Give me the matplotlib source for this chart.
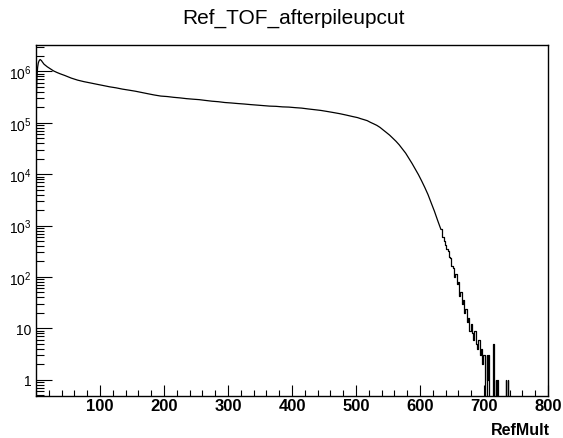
import numpy as np
import matplotlib
matplotlib.use("Agg")
import matplotlib.pyplot as plt
from matplotlib import ticker

plt.rcParams['font.family'] = ['Liberation Sans', 'DejaVu Sans']
plt.rcParams['mathtext.default'] = 'regular'

# histogram, RefMult bins (variable width where the curve is flat)
head_counts = [295000, 794000, 1200000, 1450000, 1580000, 1660000, 1700000, 1660000, 1620000, 1550000]
early_counts = [1380000, 1230000, 1120000, 1020000, 955000, 900000]
flat_counts = [832000, 741000, 676000, 631000, 596000, 562000, 531000, 501000, 479000, 452000,
               432000, 412000, 389000, 367000, 347000, 331000, 324000, 313000, 305000, 295000,
               288000, 282000, 272000, 263000, 257000, 248000, 243000, 237000, 232000, 226000,
               221000, 216000, 211000, 209000, 204000, 202000, 197000, 193000, 186000, 180000,
               174000, 166000, 158000, 150000, 141000, 132000]
knee_counts = [126000, 120000, 115000, 110000, 102000, 95500, 89100, 81300, 72400, 64600,
               57500, 50100, 43600, 37200, 30900, 25700, 20400, 16200, 12600, 9800,
               7400, 5500, 4000, 2750, 1900, 1260, 850]
fall_counts = [590, 500, 420, 355, 316, 240, 229, 166, 151, 100, 112, 72, 79, 42, 52, 30, 35,
               20, 24, 13, 16, 9, 12, 8, 6, 9, 5, 4, 6, 3, 4, 2, 3]
tail_counts = [0, 0, 0, 3, 1, 3, 0, 0, 0, 0, 0, 0, 0, 5, 1, 0, 0, 1, 0, 0,
               1, 0, 0, 0, 0, 0, 0, 0, 0, 0, 0, 0, 0, 1, 0, 0, 1, 0, 0, 0]

smooth_edges = np.r_[np.arange(0, 10), np.arange(10, 40, 5), np.arange(40, 500, 10),
                     np.arange(500, 636, 5)]
noisy_edges = np.r_[np.arange(635, 701, 2), np.arange(701, 742)]

smooth_counts = np.array(head_counts + early_counts + flat_counts + knee_counts, dtype=float)
noisy_counts = np.array(fall_counts + tail_counts, dtype=float)

smooth_x = 0.5 * (smooth_edges[:-1] + smooth_edges[1:])
noisy_x = 0.5 * (noisy_edges[:-1] + noisy_edges[1:])

fig = plt.figure(figsize=(5.63, 4.39), dpi=100)
ax = fig.add_axes([0.064, 0.0964, 0.9094, 0.7986])

# the fine-binned smooth part reads as a line, the sparse tail as steps
ax.plot(smooth_x, smooth_counts, color='black', linewidth=0.9)
ax.plot(np.r_[smooth_x[-1:], noisy_x], np.r_[smooth_counts[-1:], noisy_counts],
        color='black', linewidth=0.9, drawstyle='steps-mid')
ax.set_yscale('log')
ax.set_xlim(0, 800)
ax.set_ylim(0.489, 3.25e6)

ax.xaxis.set_major_locator(ticker.FixedLocator([100, 200, 300, 400, 500, 600, 700, 800]))
ax.xaxis.set_minor_locator(ticker.MultipleLocator(20))
ax.yaxis.set_major_locator(ticker.FixedLocator([1, 10, 1e2, 1e3, 1e4, 1e5, 1e6]))
ax.yaxis.set_minor_locator(ticker.LogLocator(base=10, subs=np.arange(2, 10), numticks=20))
ax.yaxis.set_minor_formatter(ticker.NullFormatter())


def ylab(v, pos):
    if v == 1:
        return '1'
    if v == 10:
        return '10'
    return '$10^{%d}$' % int(round(np.log10(v)))


ax.yaxis.set_major_formatter(ticker.FuncFormatter(ylab))

ax.tick_params(axis='x', which='major', direction='in', length=7.7, width=0.8, pad=1.5, labelsize=12)
ax.tick_params(axis='x', which='minor', direction='in', length=4.1, width=0.8)
ax.tick_params(axis='y', which='major', direction='in', length=11.5, width=0.8, pad=3, labelsize=10)
ax.tick_params(axis='y', which='minor', direction='in', length=5.8, width=0.8)
for lab in ax.get_xticklabels():
    lab.set_fontweight('bold')
for sp in ax.spines.values():
    sp.set_linewidth(1.0)

fig.text(0.522, 0.945, 'Ref_TOF_afterpileupcut', ha='center', va='baseline', fontsize=15)
fig.text(0.976, 0.008, 'RefMult', ha='right', va='baseline', fontsize=11.5, fontweight='bold')

fig.savefig('out.png', dpi=100)
